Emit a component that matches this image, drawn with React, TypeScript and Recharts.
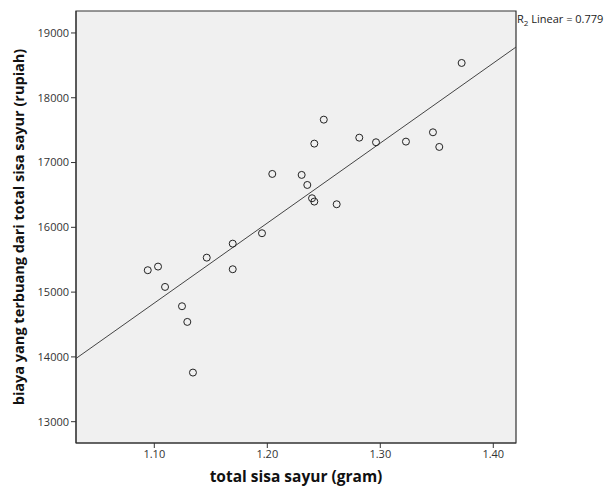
import React from "react";
import {
  ScatterChart,
  Scatter,
  XAxis,
  YAxis,
  ReferenceArea,
  ReferenceLine,
} from "recharts";

// total sisa sayur (gram)
const sisaSayur = [
  1.372, 1.25, 1.2416, 1.2814, 1.2962, 1.3227, 1.3466, 1.3522,
  1.2044, 1.2304, 1.2354, 1.2396, 1.2416, 1.2614, 1.1953, 1.1694,
  1.1464, 1.1694, 1.0942, 1.1033, 1.1095, 1.1245, 1.1292, 1.1342,
];

// biaya yang terbuang (rupiah)
const biaya = [
  18537, 17662, 17292, 17384, 17313, 17323, 17467, 17241,
  16824, 16809, 16654, 16449, 16397, 16356, 15909, 15748,
  15532, 15353, 15338, 15394, 15080, 14782, 14540, 13758,
];

const xTicks = [1.1, 1.2, 1.3, 1.4];
const yTicks = [13000, 14000, 15000, 16000, 17000, 18000, 19000];
const xDomain = [1.0307, 1.4201];
const yDomain = [12671, 19339];
const rSquared = "0.779";

const points = sisaSayur.map((x, i) => ({ x, y: biaya[i] }));

// least squares fit line over the data
function fitLine() {
  const n = points.length;
  const mx = points.reduce((s, p) => s + p.x, 0) / n;
  const my = points.reduce((s, p) => s + p.y, 0) / n;
  let sxy = 0;
  let sxx = 0;
  points.forEach((p) => {
    sxy += (p.x - mx) * (p.y - my);
    sxx += (p.x - mx) * (p.x - mx);
  });
  const b = sxy / sxx;
  const a = my - b * mx;
  return [
    { x: xDomain[0], y: a + b * xDomain[0] },
    { x: xDomain[1], y: a + b * xDomain[1] },
  ];
}

const font = "'Open Sans', 'DejaVu Sans', sans-serif";
const dark = "#333333";

const OpenCircle = (props: any) => {
  const { cx, cy } = props;
  return <circle cx={cx} cy={cy} r={3.5} fill="none" stroke="#222" strokeWidth={1} />;
};

export default function App() {
  const seg = fitLine();
  return (
    <div style={{ position: "absolute", left: 0, top: 0, width: 611, height: 488, background: "#fff", fontFamily: font }}>
      <ScatterChart width={611} height={488} margin={{ top: 11, right: 95, left: 0, bottom: 0 }}>
        <ReferenceArea
          x1={xDomain[0]}
          x2={xDomain[1]}
          y1={yDomain[0]}
          y2={yDomain[1]}
          fill="#f0f0f0"
          fillOpacity={1}
          stroke={dark}
          strokeWidth={1.2}
        />
        <XAxis
          type="number"
          dataKey="x"
          domain={xDomain}
          ticks={xTicks}
          allowDataOverflow
          tickFormatter={(v: number) => v.toFixed(2)}
          height={45}
          stroke={dark}
          tickSize={5}
          tick={{ fill: dark, fontSize: 11, fontFamily: font }}
          label={{
            value: "total sisa sayur (gram)",
            position: "insideBottom",
            offset: 6,
            style: { fill: "#111", fontSize: 15.5, fontWeight: 700, fontFamily: font },
          }}
        />
        <YAxis
          type="number"
          dataKey="y"
          domain={yDomain}
          ticks={yTicks}
          allowDataOverflow
          width={76}
          stroke={dark}
          tickSize={5}
          tick={{ fill: dark, fontSize: 11, fontFamily: font }}
          label={{
            value: "biaya yang terbuang dari total sisa sayur (rupiah)",
            angle: -90,
            position: "insideLeft",
            offset: 19,
            style: { textAnchor: "middle", fill: "#111", fontSize: 14.5, fontWeight: 700, fontFamily: font },
          }}
        />
        <ReferenceLine segment={seg} stroke="#444" strokeWidth={1} ifOverflow="hidden" />
        <Scatter data={points} shape={OpenCircle} isAnimationActive={false} />
      </ScatterChart>
      <div style={{ position: "absolute", left: 517, top: 11, fontSize: 11, color: "#222", whiteSpace: "nowrap" }}>
        R<sub style={{ fontSize: 8 }}>2</sub> Linear = {rSquared}
      </div>
    </div>
  );
}
